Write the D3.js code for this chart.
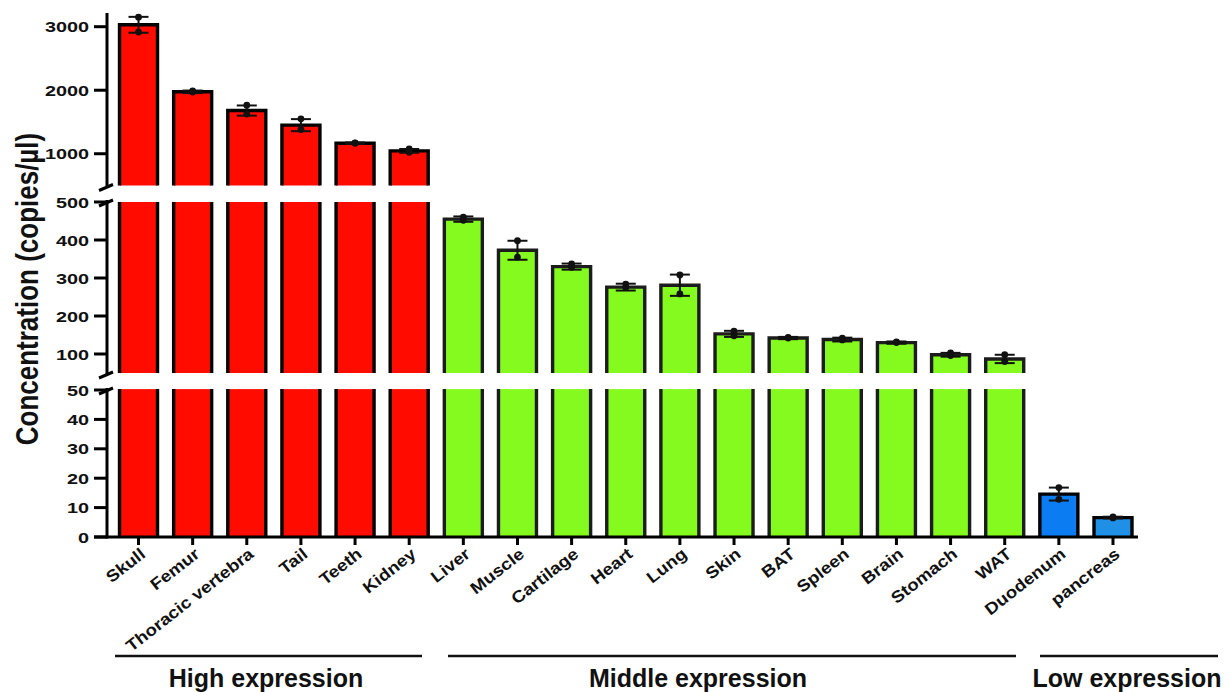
<!DOCTYPE html>
<html>
<head>
<meta charset="utf-8">
<script src="https://cdn.jsdelivr.net/npm/d3@7"></script>
<style>
  body { margin: 0; background: #fff; }
  svg { display: block; font-family: "Liberation Sans", Arial, sans-serif; }
</style>
</head>
<body>
<svg id="chart"></svg>
<script>
// tissues, in plotted order
const categories = ["Skull", "Femur", "Thoracic vertebra", "Tail", "Teeth", "Kidney",
  "Liver", "Muscle", "Cartilage", "Heart", "Lung", "Skin", "BAT", "Spleen", "Brain",
  "Stomach", "WAT", "Duodenum", "pancreas"];
const groupOf = ["high", "high", "high", "high", "high", "high",
  "mid", "mid", "mid", "mid", "mid", "mid", "mid", "mid", "mid", "mid", "mid",
  "low", "low"];
const means = [3030, 1975, 1680, 1450, 1165, 1045,
  455, 373, 330, 276, 281, 153, 142, 138, 130, 98, 87,
  14.6, 6.6];
const sds = [125, 20, 80, 95, 12, 30,
  7, 25, 8, 9, 28, 8, 3, 5, 3, 5, 11,
  2.2, 0.3];
const replicates = [[3150, 2915], [1990, 1972], [1765, 1625], [1550, 1380], [1172, 1165], [1078, 1022],
  [460, 452], [398, 355], [337, 328], [284, 275], [308, 258], [160, 148], [144, 142], [142, 137],
  [132, 130], [103, 96], [98, 80], [16.8, 12.8], [6.8, 6.5]];

const groupNames = ["High expression", "Middle expression", "Low expression"];
const ticksLow = [0, 10, 20, 30, 40, 50];
const ticksMid = [100, 200, 300, 400, 500];
const ticksTop = [1000, 2000, 3000];
const yTitle = "Concentration (copies/µl)";

const fills = { high: "#ff0b00", mid: "#85fa1f", low: "#0c7cf2" };
const edge = { high: "#000", mid: "#1c1c1c", low: "#000" };

const W = 1228, H = 692;
const axisX = 107;

const svg = d3.select("#chart").attr("width", W).attr("height", H);

// three stacked pieces of the broken y axis
const segments = [
  { y: d3.scaleLinear().domain([0, 50]).range([537, 390]), ticks: ticksLow, axisTop: 388, max: 50.3 },
  { y: d3.scaleLinear().domain([50, 500]).range([373, 202]), ticks: ticksMid, axisTop: 200, max: 500 },
  { y: d3.scaleLinear().domain([500, 3000]).range([185.5, 26.7]), ticks: ticksTop, axisTop: 13, max: 3300 }
];
function segOf(v) {
  if (v <= 50) return segments[0];
  if (v <= 500) return segments[1];
  return segments[2];
}
const yOf = (v) => segOf(v).y(v);

const x = d3.scaleBand()
  .domain(categories)
  .range([axisX, 1144.5])
  .paddingInner(0.298)
  .paddingOuter(0.231);
const bw = x.bandwidth();

// bars, cut into pieces by the breaks
const bars = svg.append("g");
categories.forEach((c, i) => {
  const v = means[i];
  const g = groupOf[i];
  const x0 = x(c), x1 = x(c) + bw;
  segments.forEach((s) => {
    const lo = s.y.domain()[0];
    if (v <= lo) return;
    const top = Math.min(v, s.max);
    const yb = s.y(lo), yt = s.y(top);
    const ends = v <= s.max;
    let fill = fills[g];
    if (c === "pancreas") fill = "#1f90e6";
    bars.append("rect")
      .attr("x", x0).attr("y", yt)
      .attr("width", bw).attr("height", yb - yt)
      .attr("fill", fill);
    const p = d3.path();
    p.moveTo(x0, yb);
    p.lineTo(x0, yt);
    if (ends) p.lineTo(x1, yt); else p.moveTo(x1, yt);
    p.lineTo(x1, yb);
    bars.append("path")
      .attr("d", p.toString())
      .attr("fill", "none")
      .attr("stroke", edge[g])
      .attr("stroke-width", 3.4)
      .attr("stroke-linejoin", "miter");
  });
});

// error bars and replicate dots
const err = svg.append("g").attr("stroke", "#111").attr("stroke-width", 2);
categories.forEach((c, i) => {
  const cx = x(c) + bw / 2;
  const hi = means[i] + sds[i], lo = means[i] - sds[i];
  err.append("line").attr("x1", cx).attr("x2", cx).attr("y1", yOf(hi)).attr("y2", yOf(lo));
  [hi, lo].forEach((v) => {
    err.append("line").attr("x1", cx - 10).attr("x2", cx + 10).attr("y1", yOf(v)).attr("y2", yOf(v));
  });
  replicates[i].forEach((v) => {
    svg.append("circle").attr("cx", cx).attr("cy", yOf(v)).attr("r", 3.4).attr("fill", "#111");
  });
});

// y axis pieces
const ax = svg.append("g").attr("stroke", "#000").attr("stroke-width", 3);
segments.forEach((s, k) => {
  const yb = k === 0 ? s.y(0) + 1.5 : s.y(s.y.domain()[0]) + 1;
  ax.append("line").attr("x1", axisX).attr("x2", axisX).attr("y1", s.axisTop).attr("y2", yb);
  s.ticks.forEach((t) => {
    ax.append("line").attr("x1", axisX - 13).attr("x2", axisX).attr("y1", s.y(t)).attr("y2", s.y(t));
    svg.append("g")
      .attr("transform", `translate(${axisX - 18},${s.y(t)}) scale(1.28,1)`)
      .append("text")
      .attr("text-anchor", "end")
      .attr("dy", "0.36em")
      .attr("font-size", 15.5)
      .attr("font-weight", "bold")
      .attr("fill", "#111")
      .text(t);
  });
  // break marks
  if (k > 0) ax.append("line").attr("x1", axisX - 8).attr("x2", axisX + 6).attr("y1", yb + 4).attr("y2", yb - 2);
  if (k < 2) ax.append("line").attr("x1", axisX - 8).attr("x2", axisX + 6).attr("y1", s.axisTop + 6).attr("y2", s.axisTop);
});

// x axis
const base = segments[0].y(0);
ax.append("line").attr("x1", axisX - 13).attr("x2", 1138).attr("y1", base).attr("y2", base);
categories.forEach((c) => {
  const cx = x(c) + bw / 2;
  ax.append("line").attr("x1", cx).attr("x2", cx).attr("y1", base).attr("y2", base + 8);
  svg.append("g")
    .attr("transform", `translate(${cx + 8},${base + 19}) rotate(-38) scale(1.13,1)`)
    .append("text")
    .attr("text-anchor", "end")
    .attr("font-size", 16.5)
    .attr("font-weight", "bold")
    .attr("fill", "#111")
    .text(c);
});

// y title
svg.append("g")
  .attr("transform", "translate(38,289) rotate(-90) scale(1,1.2)")
  .append("text")
  .attr("text-anchor", "middle")
  .attr("font-size", 26)
  .attr("font-weight", "bold")
  .attr("fill", "#111")
  .text(yTitle);

// expression groups under the axis
const groupLines = [[115, 422], [448, 1016], [1040, 1218]];
const groupTextX = [266, 698, 1127];
groupNames.forEach((name, k) => {
  svg.append("line")
    .attr("x1", groupLines[k][0]).attr("x2", groupLines[k][1])
    .attr("y1", 656).attr("y2", 656)
    .attr("stroke", "#111").attr("stroke-width", 2.5);
  svg.append("text")
    .attr("x", groupTextX[k]).attr("y", 687)
    .attr("text-anchor", "middle")
    .attr("font-size", 25)
    .attr("font-weight", "bold")
    .attr("fill", "#111")
    .text(name);
});
</script>
</body>
</html>
